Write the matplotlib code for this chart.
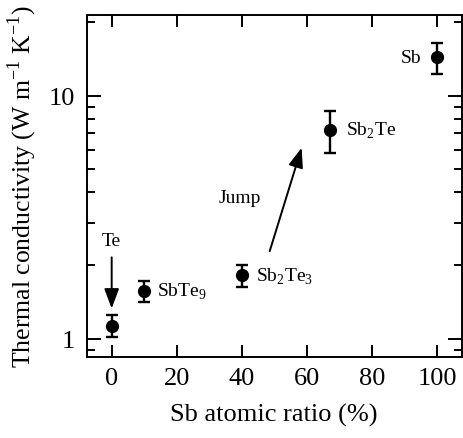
import matplotlib

matplotlib.use("Agg")
import matplotlib.pyplot as plt  # noqa: E402
from matplotlib.ticker import FixedLocator, LogLocator, NullFormatter  # noqa: E402

# ---------------- data ----------------
sb_ratio = [0, 10, 40, 67, 100]
kappa = [1.13, 1.57, 1.82, 7.2, 14.4]
kappa_lo = [1.02, 1.42, 1.63, 5.8, 12.3]
kappa_hi = [1.25, 1.73, 2.0, 8.65, 16.5]
names = ["Te", "SbTe$_\\mathregular{9}$", "Sb$_\\mathregular{2}$Te$_\\mathregular{3}$",
         "Sb$_\\mathregular{2}$Te", "Sb"]

plt.rcParams["font.family"] = ["Liberation Serif", "DejaVu Serif"]
plt.rcParams["mathtext.fontset"] = "custom"
plt.rcParams["mathtext.rm"] = "Liberation Serif"

fig = plt.figure(figsize=(4.63, 4.39), dpi=100)
ax = fig.add_axes([0.187, 0.1845, 0.810, 0.7795])

yerr = [[k - lo for k, lo in zip(kappa, kappa_lo)],
        [hi - k for k, hi in zip(kappa, kappa_hi)]]
ax.errorbar(sb_ratio, kappa, yerr=yerr, fmt="o", color="k", ms=8.5,
            elinewidth=1.7, capsize=4, capthick=1.7)

ax.set_yscale("log")
ax.set_xlim(-7.7, 107.4)
ax.set_ylim(0.84, 21.5)
ax.set_xticks(range(0, 101, 20))
ax.yaxis.set_major_locator(FixedLocator([1, 10]))
ax.set_yticklabels(["1", "10"])
ax.yaxis.set_minor_locator(LogLocator(base=10, subs=range(2, 10)))
ax.yaxis.set_minor_formatter(NullFormatter())

ax.tick_params(which="both", direction="in", top=True, right=True, labelsize=19)
ax.tick_params(axis="y", which="major", length=10, width=1.4, pad=8.5)
ax.tick_params(axis="x", which="major", length=8.5, width=1.4, pad=7)
ax.tick_params(which="minor", length=5.5, width=1.4)
for s in ax.spines.values():
    s.set_linewidth(1.4)

ax.set_xlabel("Sb atomic ratio (%)", fontsize=19, labelpad=10)
ax.set_ylabel("Thermal conductivity (W m$^\\mathregular{-1}$ K$^\\mathregular{-1}$)",
              fontsize=18.5, labelpad=7)

# labels next to the points
ax.text(13.8, kappa[1], names[1], fontsize=14, va="center", ha="left")
ax.text(44.2, kappa[2], names[2], fontsize=14, va="center", ha="left")
ax.text(72, kappa[3], names[3], fontsize=14, va="center", ha="left")
ax.text(92, kappa[4], names[4], fontsize=14, va="center", ha="center")

arrow = dict(arrowstyle="-|>,head_length=1.2,head_width=0.45", lw=1.4,
             color="k", shrinkA=0, shrinkB=0)
ax.annotate("", xy=(0, 1.33), xytext=(0, 2.16), arrowprops=arrow)
ax.text(0, 2.54, names[0], fontsize=14, ha="center", va="center")
ax.annotate("", xy=(58.3, 6.1), xytext=(48.5, 2.29), arrowprops=arrow)
ax.text(39.3, 3.82, "Jump", fontsize=14, ha="center", va="center")

fig.savefig("out.png", dpi=100)
